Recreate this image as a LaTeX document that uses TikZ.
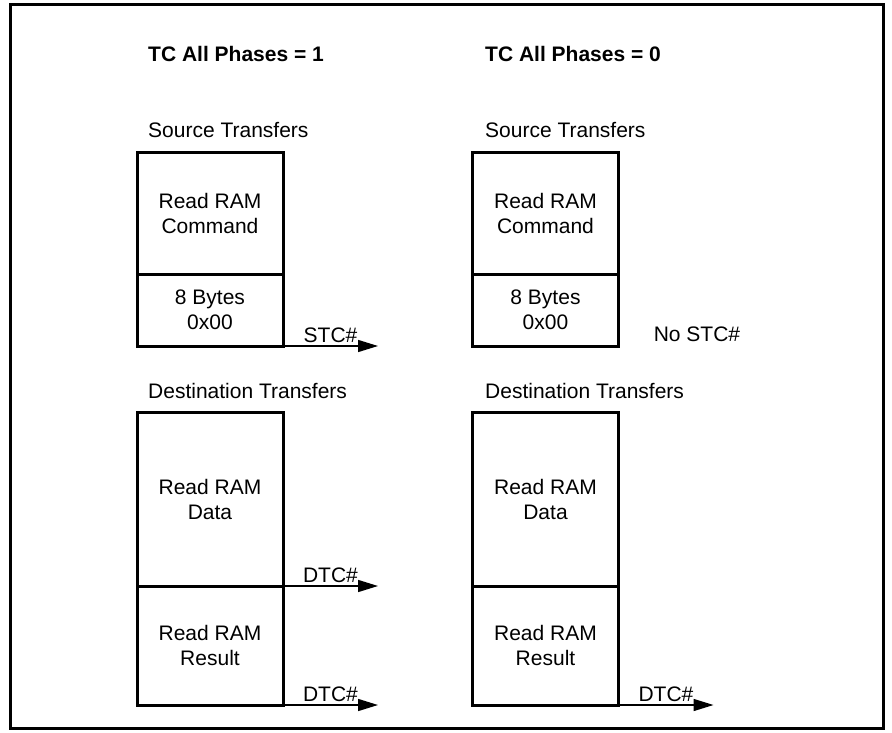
\documentclass[tikz,border=0pt]{standalone}
\usepackage{fontspec}
\setmainfont{Liberation Sans}
\usetikzlibrary{arrows.meta, positioning}

\begin{document}
\begin{tikzpicture}[
    x=1pt, y=-1pt,
    every node/.style={font=\fontsize{21}{25}\selectfont},
    block/.style={rectangle, draw=black, line width=3pt, minimum width=146pt, inner sep=0pt, outer sep=0pt, align=center},
    heading/.style={anchor=west, inner sep=0pt, font=\fontsize{21}{25}\selectfont\bfseries},
    caption/.style={anchor=west, inner sep=0pt},
    signal/.style={-{Triangle[length=20pt, width=12pt]}, line width=1.5pt},
    siglabel/.style={above, inner sep=3pt}
]
\useasboundingbox (0,0) rectangle (892,733);
\draw[line width=3pt] (10,5) rectangle (883,728);

% TC All Phases = 1
\node[heading] (headA) at (148,54) {TC All Phases = 1};
\node[caption] (srcA) at (148,130) {Source Transfers};
\node[block, minimum height=121pt, anchor=north] (cmdA) at (210,153) {Read RAM\\Command};
\node[block, minimum height=72pt, below=0pt of cmdA] (bytesA) {8 Bytes\\0x00};
\coordinate[right=95pt of bytesA.south east] (stcA);
\draw[signal] (bytesA.south east) -- node[siglabel] {STC\#} (stcA);

\node[caption] (dstA) at (148,391) {Destination Transfers};
\node[block, minimum height=174pt, anchor=north] (dataA) at (210,412) {Read RAM\\Data};
\node[block, minimum height=119pt, below=0pt of dataA] (resA) {Read RAM\\Result};
\coordinate[right=95pt of dataA.south east] (dtcA1);
\coordinate[right=95pt of resA.south east] (dtcA2);
\draw[signal] (dataA.south east) -- node[siglabel] {DTC\#} (dtcA1);
\draw[signal] (resA.south east) -- node[siglabel] {DTC\#} (dtcA2);

% TC All Phases = 0
\node[heading] (headB) at (485,54) {TC All Phases = 0};
\node[caption] (srcB) at (485,130) {Source Transfers};
\node[block, minimum height=121pt, anchor=north] (cmdB) at (545.5,153) {Read RAM\\Command};
\node[block, minimum height=72pt, below=0pt of cmdB] (bytesB) {8 Bytes\\0x00};
\node (nostc) at (697,334) {No STC\#};

\node[caption] (dstB) at (485,391) {Destination Transfers};
\node[block, minimum height=174pt, anchor=north] (dataB) at (545.5,412) {Read RAM\\Data};
\node[block, minimum height=119pt, below=0pt of dataB] (resB) {Read RAM\\Result};
\coordinate[right=95pt of resB.south east] (dtcB);
\draw[signal] (resB.south east) -- node[siglabel] {DTC\#} (dtcB);

\end{tikzpicture}
\end{document}
